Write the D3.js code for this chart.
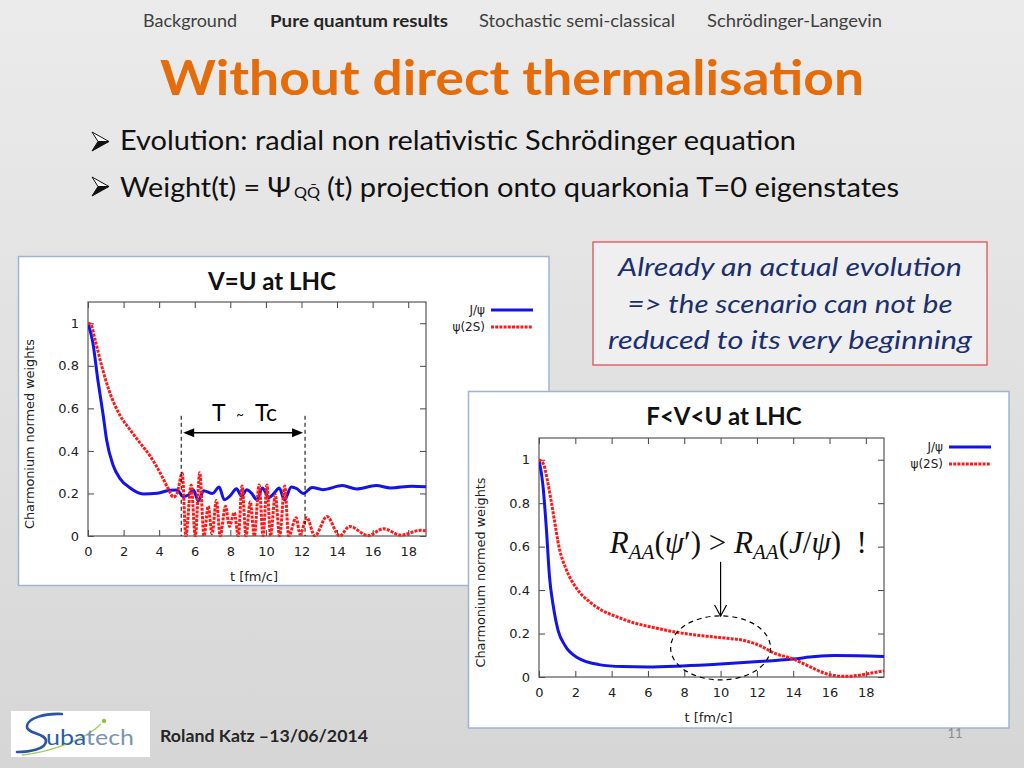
<!DOCTYPE html>
<html><head><meta charset="utf-8">
<script src="https://cdn.jsdelivr.net/npm/d3@7"></script>
<style>body{margin:0;overflow:hidden;background:#ddd}svg{display:block}</style>
</head><body>
<svg id="slide" width="1024" height="768"></svg>
<script>
// ---------- data ----------
const navItems = ["Background", "Pure quantum results", "Stochastic semi-classical", "Schrödinger-Langevin"];
const titleText = "Without direct thermalisation";
const bullet1 = "Evolution: radial non relativistic Schrödinger equation";
const bullet2Parts = ["Weight(t) = Ψ", "QQ\u0304", "(t) projection onto quarkonia T=0 eigenstates"];
const noteLines = ["Already an actual evolution", "=> the scenario can not be", "reduced to its very beginning"];
const footerText = "Roland Katz \u201313/06/2014";
const logoText = ["ub", "a", "tech"];
const pageNumber = "11";

const tTicks = [0, 2, 4, 6, 8, 10, 12, 14, 16, 18];
const wTicks = [0, 0.2, 0.4, 0.6, 0.8, 1];
const wTickLabels = ["0", "0.2", "0.4", "0.6", "0.8", "1"];
const seriesNames = ["J/ψ", "ψ(2S)"];
const chartTitles = ["V=U at LHC", "F<V<U at LHC"];
const xAxisTitle = "t [fm/c]";
const yAxisTitle = "Charmonium normed weights";

// V=U at LHC  [t, weight]
const vuJpsi = [[0,1.0],[0.27,0.91],[0.56,0.73],[0.85,0.57],[1.05,0.45],[1.4,0.335],[1.8,0.27],[2.35,0.227],[3.1,0.198],[3.9,0.201],[4.6,0.215],[5.0,0.216],[5.35,0.186],[5.64,0.193],[5.92,0.217],[6.2,0.165],[6.5,0.213],[7.0,0.2],[7.37,0.23],[7.66,0.17],[8.0,0.19],[8.35,0.222],[8.63,0.187],[8.92,0.217],[9.2,0.2],[9.5,0.17],[9.8,0.226],[10.17,0.18],[10.45,0.2],[10.75,0.226],[11.04,0.17],[11.43,0.23],[11.75,0.222],[12.1,0.2],[12.6,0.228],[13.2,0.218],[14.3,0.237],[15.1,0.221],[16.2,0.237],[17.0,0.226],[18.2,0.234],[19,0.231]];
const vuPsi2s = [[0,1.0],[0.15,0.995],[0.42,0.915],[0.8,0.79],[1.2,0.68],[1.78,0.57],[2.36,0.5],[2.93,0.437],[3.5,0.375],[4.1,0.29],[4.48,0.227],[4.8,0.183],[5.0,0.2],[5.3,0.295],[5.5,0],[5.8,0.24],[6.03,0],[6.28,0.297],[6.52,0],[6.76,0.14],[6.97,0.01],[7.22,0.167],[7.43,0],[7.73,0.14],[7.95,0.045],[8.22,0.11],[8.45,0],[8.66,0.235],[8.88,0],[9.12,0.16],[9.35,0],[9.62,0.24],[9.84,0],[10.06,0.24],[10.26,0],[10.53,0.193],[10.77,0],[11.06,0.235],[11.28,0],[11.7,0.086],[11.92,0.008],[12.3,0.086],[12.75,0],[13.43,0.092],[14.15,0],[14.7,0.045],[15.75,0.002],[16.6,0.034],[17.6,0.004],[18.7,0.027],[19,0.024]];

// F<V<U at LHC  [t, weight]
const fvuJpsi = [[0,1.0],[0.22,0.88],[0.4,0.69],[0.58,0.46],[0.78,0.33],[1.05,0.215],[1.43,0.145],[2.1,0.09],[3.3,0.057],[4.6,0.048],[6.0,0.046],[7.9,0.051],[10.0,0.06],[11.9,0.07],[14.0,0.083],[15.2,0.094],[16.3,0.099],[17.5,0.098],[19,0.094]];
const fvuPsi2s = [[0,1.0],[0.25,0.98],[0.45,0.91],[0.65,0.82],[0.85,0.72],[1.1,0.6],[1.5,0.495],[2.05,0.41],[2.8,0.345],[3.5,0.305],[4.2,0.28],[5.4,0.245],[6.3,0.228],[7.5,0.207],[9.2,0.188],[10.5,0.177],[11.3,0.168],[12.2,0.143],[12.9,0.112],[14.0,0.083],[14.9,0.048],[15.9,0.013],[16.8,0.003],[17.6,0.008],[18.3,0.018],[19,0.029]];

const tcWindow = [5.24, 12.2];

// ---------- drawing ----------
const svg = d3.select("#slide");
const defs = svg.append("defs");
const grad = defs.append("linearGradient").attr("id", "bg").attr("x1", 0).attr("y1", 0).attr("x2", 0).attr("y2", 1);
grad.append("stop").attr("offset", "0%").attr("stop-color", "#ebebeb");
grad.append("stop").attr("offset", "100%").attr("stop-color", "#d6d6d6");
svg.append("rect").attr("width", 1024).attr("height", 768).attr("fill", "url(#bg)");

const SLIDE_FONT = "Lato, 'Open Sans', sans-serif";
const GP_FONT = "'DejaVu Sans', sans-serif";

// nav bar
const navLayout = [[143, 94], [270, 178], [479, 196], [707, 175]];
navItems.forEach((s, i) => {
  svg.append("text").attr("x", navLayout[i][0]).attr("y", 27)
    .attr("font-family", SLIDE_FONT).attr("font-size", 17)
    .attr("font-weight", i === 1 ? "bold" : "normal")
    .attr("fill", i === 1 ? "#262626" : "#404040")
    .attr("textLength", navLayout[i][1]).attr("lengthAdjust", "spacingAndGlyphs")
    .text(s);
});

// title
svg.append("text").attr("x", 160).attr("y", 95)
  .attr("font-family", SLIDE_FONT).attr("font-size", 47).attr("font-weight", "bold")
  .attr("fill", "#E46C0A").attr("textLength", 704).attr("lengthAdjust", "spacingAndGlyphs")
  .text(titleText);

// bullets (3D arrowhead markers)
function bulletArrow(cy) {
  const x0 = 92, tip = 109, h = 9.5, nx = 98;
  svg.append("path").attr("d", `M${x0},${cy - h}L${tip},${cy}L${nx},${cy}Z`)
    .attr("fill", "#fafafa").attr("stroke", "#111").attr("stroke-width", 1).attr("stroke-linejoin", "round");
  svg.append("path").attr("d", `M${x0},${cy + h}L${tip},${cy}L${nx},${cy}Z`)
    .attr("fill", "#111").attr("stroke", "#111").attr("stroke-width", 1).attr("stroke-linejoin", "round");
}
bulletArrow(141.5);
svg.append("text").attr("x", 120).attr("y", 150).attr("font-family", SLIDE_FONT).attr("font-size", 26)
  .attr("fill", "#111").attr("textLength", 676).attr("lengthAdjust", "spacingAndGlyphs").text(bullet1);
bulletArrow(186.5);
svg.append("text").attr("x", 120).attr("y", 197).attr("font-family", SLIDE_FONT).attr("font-size", 26)
  .attr("fill", "#111").attr("textLength", 171).attr("lengthAdjust", "spacingAndGlyphs").text(bullet2Parts[0]);
svg.append("text").attr("x", 294).attr("y", 198).attr("font-family", SLIDE_FONT).attr("font-size", 16)
  .attr("fill", "#111").attr("textLength", 26).attr("lengthAdjust", "spacingAndGlyphs").text(bullet2Parts[1]);
svg.append("text").attr("x", 327).attr("y", 197).attr("font-family", SLIDE_FONT).attr("font-size", 26)
  .attr("fill", "#111").attr("textLength", 572).attr("lengthAdjust", "spacingAndGlyphs").text(bullet2Parts[2]);

// note box
svg.append("rect").attr("x", 593).attr("y", 242).attr("width", 394).attr("height", 123)
  .attr("fill", "#efefef").attr("stroke", "#e0454a").attr("stroke-width", 1.2);
const noteLayout = [[790, 276, 344], [790, 313, 325], [790, 349, 364]];
noteLines.forEach((s, i) => {
  svg.append("text").attr("x", noteLayout[i][0] - noteLayout[i][2] / 2).attr("y", noteLayout[i][1])
    .attr("font-family", SLIDE_FONT).attr("font-size", 26).attr("font-style", "italic")
    .attr("fill", "#1c2f6e").attr("textLength", noteLayout[i][2]).attr("lengthAdjust", "spacingAndGlyphs")
    .text(s);
});

// plot helper
function drawPlot(o) {
  const g = svg.append("g");
  g.append("rect").attr("x", o.panel[0]).attr("y", o.panel[1]).attr("width", o.panel[2]).attr("height", o.panel[3])
    .attr("fill", "#ffffff").attr("stroke", "#9fb4d3").attr("stroke-width", 1.5);
  g.append("text").attr("x", o.titleX).attr("y", o.titleY).attr("text-anchor", "middle")
    .attr("font-family", SLIDE_FONT).attr("font-size", 24).attr("font-weight", "bold").attr("fill", "#111")
    .text(o.title);

  const x = d3.scaleLinear().domain([0, 19]).range([o.x0, o.x1]);
  const y = d3.scaleLinear().domain([0, 1.1]).range([o.y0, o.y1]);

  const styleAxis = (ax) => {
    ax.select(".domain").remove();
    ax.selectAll(".tick line").attr("stroke", "#444").attr("stroke-width", 1);
    ax.attr("font-family", GP_FONT).attr("font-size", 13);
    ax.selectAll(".tick text").attr("fill", "#222");
  };
  g.append("g").attr("transform", `translate(0,${o.y0})`)
    .call(d3.axisBottom(x).tickValues(tTicks).tickSize(-6).tickPadding(11).tickFormat(d3.format("d"))).call(styleAxis);
  g.append("g").attr("transform", `translate(0,${o.y1})`)
    .call(d3.axisTop(x).tickValues(tTicks).tickSize(-6).tickFormat("")).call(styleAxis);
  g.append("g").attr("transform", `translate(${o.x0},0)`)
    .call(d3.axisLeft(y).tickValues(wTicks).tickSize(-6).tickPadding(9).tickFormat((d, i) => wTickLabels[i])).call(styleAxis);
  g.append("g").attr("transform", `translate(${o.x1},0)`)
    .call(d3.axisRight(y).tickValues(wTicks).tickSize(-6).tickFormat("")).call(styleAxis);

  g.append("rect").attr("x", o.x0).attr("y", o.y1).attr("width", o.x1 - o.x0).attr("height", o.y0 - o.y1)
    .attr("fill", "none").attr("stroke", "#555").attr("stroke-width", 1.2);

  const clipId = "clip" + o.id;
  defs.append("clipPath").attr("id", clipId).append("rect")
    .attr("x", o.x0).attr("y", o.y1 - 2).attr("width", o.x1 - o.x0 + 2).attr("height", o.y0 - o.y1 + 3);

  const line = d3.line().x(d => x(d[0])).y(d => y(d[1])).curve(d3.curveMonotoneX);
  const lg = g.append("g").attr("clip-path", `url(#${clipId})`);
  lg.append("path").datum(o.jpsi).attr("d", line).attr("fill", "none")
    .attr("stroke", "#1414e6").attr("stroke-width", 3).attr("stroke-linejoin", "round");
  lg.append("path").datum(o.psi2s).attr("d", line).attr("fill", "none")
    .attr("stroke", "#ff1a1a").attr("stroke-width", 3).attr("stroke-dasharray", "3,1.2");

  // legend
  const styles = [{ c: "#1414e6", d: null }, { c: "#ff1a1a", d: "3,1.2" }];
  seriesNames.forEach((n, i) => {
    const ly = o.legY + i * 17;
    g.append("text").attr("x", o.legX).attr("y", ly + 4).attr("text-anchor", "end")
      .attr("font-family", GP_FONT).attr("font-size", 12).attr("fill", "#222").text(n);
    g.append("line").attr("x1", o.legX + 6).attr("x2", o.legX + 48).attr("y1", ly).attr("y2", ly)
      .attr("stroke", styles[i].c).attr("stroke-width", 3).attr("stroke-dasharray", styles[i].d);
  });

  // axis titles
  g.append("text").attr("x", (o.x0 + o.x1) / 2 - 3).attr("y", o.y0 + 45).attr("text-anchor", "middle")
    .attr("font-family", GP_FONT).attr("font-size", 13).attr("fill", "#222").text(xAxisTitle);
  g.append("text").attr("transform", `translate(${o.yTitleX},${(o.y0 + o.y1) / 2 + 15}) rotate(-90)`)
    .attr("text-anchor", "middle").attr("font-family", GP_FONT).attr("font-size", 13).attr("fill", "#222")
    .attr("textLength", 190).attr("lengthAdjust", "spacingAndGlyphs").text(yAxisTitle);
  return { g, x, y };
}

// chart 1
const p1 = drawPlot({
  id: 1, panel: [18.5, 256.5, 530.5, 329], title: chartTitles[0], titleX: 272, titleY: 290,
  x0: 88, x1: 426, y0: 536, y1: 302, jpsi: vuJpsi, psi2s: vuPsi2s, legX: 485, legY: 310, yTitleX: 34
});
{
  const { g, x, y } = p1;
  tcWindow.forEach(t => {
    g.append("line").attr("x1", x(t)).attr("x2", x(t)).attr("y1", y(0.565)).attr("y2", y(0))
      .attr("stroke", "#000").attr("stroke-width", 1).attr("stroke-dasharray", "4,3");
  });
  const ay = y(0.485), ax0 = x(tcWindow[0]) + 2, ax1 = x(tcWindow[1]) - 2;
  g.append("line").attr("x1", ax0 + 8).attr("x2", ax1 - 8).attr("y1", ay).attr("y2", ay).attr("stroke", "#000").attr("stroke-width", 1.5);
  g.append("path").attr("d", `M${ax0},${ay}L${ax0 + 11},${ay - 4.5}L${ax0 + 11},${ay + 4.5}Z`).attr("fill", "#000");
  g.append("path").attr("d", `M${ax1},${ay}L${ax1 - 11},${ay - 4.5}L${ax1 - 11},${ay + 4.5}Z`).attr("fill", "#000");
  const mid = x((tcWindow[0] + tcWindow[1]) / 2), ty = y(0.54);
  g.append("text").attr("x", mid - 31).attr("y", ty).attr("font-family", SLIDE_FONT).attr("font-size", 23).attr("fill", "#000").text("T");
  g.append("text").attr("x", mid - 3).attr("y", ty - 2).attr("text-anchor", "middle").attr("font-family", SLIDE_FONT).attr("font-size", 13).attr("fill", "#000").text("~");
  g.append("text").attr("x", mid + 12).attr("y", ty).attr("font-family", SLIDE_FONT).attr("font-size", 23).attr("fill", "#000").text("Tc");
}

// chart 2
const p2 = drawPlot({
  id: 2, panel: [468.5, 391.5, 540.5, 336.5], title: chartTitles[1], titleX: 724, titleY: 425,
  x0: 539, x1: 884, y0: 677, y1: 438, jpsi: fvuJpsi, psi2s: fvuPsi2s, legX: 943, legY: 447, yTitleX: 485
});
{
  const { g, x, y } = p2;
  const t = g.append("text").attr("x", x(3.9)).attr("y", y(0.571))
    .attr("font-family", "'Liberation Serif', 'DejaVu Serif', serif").attr("font-size", 31).attr("fill", "#111");
  const parts = [
    ["R", true, 0, 31], ["AA", true, 6, 21], ["(", false, -6, 31], ["ψ", true, 0, 31], ["\u2032)\u00a0>\u00a0", false, 0, 31],
    ["R", true, 0, 31], ["AA", true, 6, 21], ["(", false, -6, 31], ["J", true, 0, 31], ["/", false, 0, 31],
    ["ψ", true, 0, 31], [")\u00a0\u00a0!", false, 0, 31]
  ];
  parts.forEach(p => {
    t.append("tspan").attr("font-style", p[1] ? "italic" : "normal").attr("dy", p[2]).attr("font-size", p[3]).text(p[0]);
  });
  const axx = x(10.0);
  g.append("line").attr("x1", axx).attr("x2", axx).attr("y1", y(0.53)).attr("y2", y(0.281)).attr("stroke", "#000").attr("stroke-width", 1.2);
  g.append("path").attr("d", `M${axx - 6},${y(0.281) - 11}L${axx},${y(0.281)}L${axx + 6},${y(0.281) - 11}`)
    .attr("fill", "none").attr("stroke", "#000").attr("stroke-width", 1.2);
  g.append("ellipse").attr("cx", x(10.0)).attr("cy", y(0.134))
    .attr("rx", x(12.75) - x(10.0)).attr("ry", y(0) - y(0.1475))
    .attr("fill", "none").attr("stroke", "#000").attr("stroke-width", 1.2).attr("stroke-dasharray", "5,4");
}

// footer: logo
svg.append("rect").attr("x", 11).attr("y", 711).attr("width", 139).attr("height", 46).attr("fill", "#fff");
svg.append("path").attr("d", "M22,755 C50,752 85,740 101,724").attr("fill", "none").attr("stroke", "#a6cf5a").attr("stroke-width", 1.4);
svg.append("circle").attr("cx", 104).attr("cy", 721).attr("r", 2.2).attr("fill", "#8cc63f");
svg.append("path").attr("d", "M62,714 C45,713 28,718 27,726 C26,734 46,733 46,741 C46,749 30,752 17,752")
  .attr("fill", "none").attr("stroke", "#2856a3").attr("stroke-width", 2.6).attr("stroke-linecap", "round");
svg.append("text").attr("x", 46).attr("y", 745).attr("font-family", SLIDE_FONT).attr("font-size", 21)
  .attr("textLength", 88).attr("lengthAdjust", "spacingAndGlyphs")
  .selectAll("tspan").data([[logoText[0], "#2a5cab"], [logoText[1], "#2a5cab"], [logoText[2], "#7d93b3"]]).join("tspan")
  .attr("fill", d => d[1]).text(d => d[0]);
svg.append("text").attr("x", 160).attr("y", 742).attr("font-family", SLIDE_FONT).attr("font-size", 17).attr("font-weight", "bold")
  .attr("fill", "#262626").attr("textLength", 208).attr("lengthAdjust", "spacingAndGlyphs").text(footerText);
svg.append("text").attr("x", 955).attr("y", 738).attr("text-anchor", "middle").attr("font-family", SLIDE_FONT)
  .attr("font-size", 13).attr("fill", "#8c8c8c").text(pageNumber);
</script>
</body></html>
